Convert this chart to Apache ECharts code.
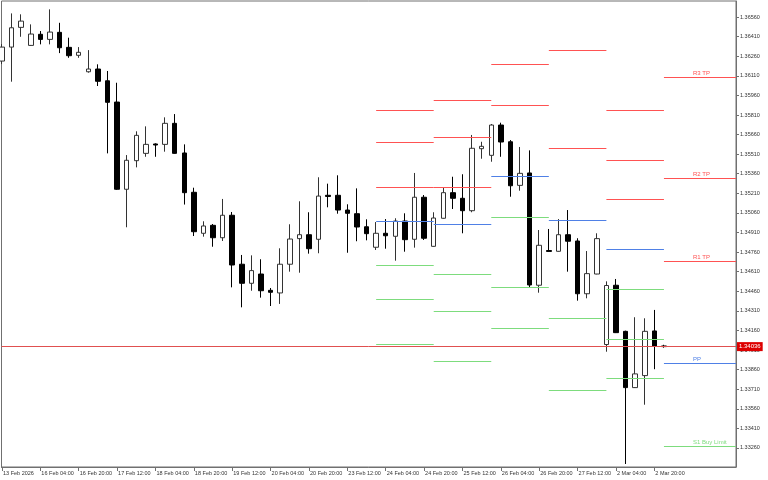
<!DOCTYPE html>
<html><head><meta charset="utf-8">
<script src="https://cdn.jsdelivr.net/npm/echarts@6/dist/echarts.min.js"></script>
<style>html,body{margin:0;padding:0;background:#fff}#c{width:768px;height:480px}</style>
</head><body><div id="c"></div>
<script>
// ---- data (H4 bars, 13 Feb 12:00 .. 3 Mar 00:00) ----
const opens = [
1.36223,1.36330,1.36481,1.36343,1.36428,1.36389,1.36443,1.36328,1.36267,1.36141,
1.36162,1.36072,1.35909,1.35241,1.35460,1.35516,1.35588,1.35585,1.35746,1.35519,
1.35218,1.34904,1.34965,1.34870,1.35042,1.34667,1.34521,1.34592,1.34467,1.34447,
1.34667,1.34863,1.34893,1.34858,1.35195,1.35195,1.35082,1.35054,1.34954,1.34797,
1.34904,1.34881,1.34998,1.34858,1.35180,1.34804,1.35019,1.35215,1.35172,1.35077,
1.35552,1.35501,1.35733,1.35605,1.35271,1.35366,1.34506,1.34772,1.34766,1.34893,
1.34845,1.34441,1.34592,1.34052,1.34506,1.34153,1.33722,1.33814,1.34156,1.34041];
const closes = [
1.36330,1.36478,1.36529,1.36430,1.36389,1.36445,1.36325,1.36264,1.36290,1.36162,
1.36068,1.35907,1.35241,1.35463,1.35654,1.35585,1.35580,1.35746,1.35516,1.35215,
1.34916,1.34960,1.34870,1.35042,1.34661,1.34521,1.34618,1.34464,1.34452,1.34667,
1.34860,1.34893,1.34786,1.35189,1.35186,1.35082,1.35057,1.34952,1.34901,1.34904,
1.34885,1.34998,1.34855,1.35180,1.34866,1.35021,1.35215,1.35172,1.35077,1.35555,
1.35570,1.35733,1.35603,1.35268,1.35363,1.34508,1.34812,1.34765,1.34893,1.34843,
1.34441,1.34595,1.34863,1.34504,1.34143,1.33722,1.33827,1.34153,1.34041,1.34036];
const highs = [
1.36353,1.36588,1.36581,1.36504,1.36453,1.36619,1.36516,1.36402,1.36330,1.36307,
1.36198,1.36147,1.36057,1.35503,1.35685,1.35723,1.35593,1.35792,1.35817,1.35585,
1.35253,1.34996,1.34975,1.35167,1.35067,1.34738,1.34735,1.34705,1.34485,1.34789,
1.34973,1.35149,1.35065,1.35333,1.35284,1.35348,1.35126,1.35248,1.35011,1.34990,
1.35013,1.35019,1.35057,1.35366,1.35197,1.35065,1.35253,1.35337,1.35356,1.35657,
1.35605,1.35741,1.35751,1.35618,1.35565,1.35539,1.34929,1.34937,1.35013,1.35082,
1.34866,1.34768,1.34904,1.34536,1.34554,1.34158,1.34261,1.34253,1.34317,1.34050];
const lows = [
1.36200,1.36065,1.36409,1.36340,1.36351,1.36351,1.36284,1.36248,1.36248,1.36134,
1.36032,1.35516,1.35236,1.34950,1.35409,1.35490,1.35490,1.35529,1.35513,1.35124,
1.34883,1.34878,1.34801,1.34845,1.34490,1.34337,1.34464,1.34411,1.34347,1.34363,
1.34610,1.34602,1.34748,1.34751,1.35103,1.35054,1.34755,1.34843,1.34850,1.34776,
1.34786,1.34694,1.34763,1.34794,1.34853,1.34801,1.35016,1.35090,1.34904,1.35065,
1.35475,1.35452,1.35490,1.35184,1.35230,1.34490,1.34449,1.34763,1.34764,1.34610,
1.34388,1.34406,1.34590,1.33997,1.34140,1.33137,1.33719,1.33591,1.33863,1.34028];

const dateLabelBars = [0,4,8,12,16,20,24,28,32,36,40,44,48,52,56,60,64,68];
const dateLabels = ["13 Feb 2026","16 Feb 04:00","16 Feb 20:00","17 Feb 12:00","18 Feb 04:00",
  "18 Feb 20:00","19 Feb 12:00","20 Feb 04:00","20 Feb 20:00","23 Feb 12:00","24 Feb 04:00",
  "24 Feb 20:00","25 Feb 12:00","26 Feb 04:00","26 Feb 20:00","27 Feb 12:00","2 Mar 04:00","2 Mar 20:00"];

const priceTicks = [1.33260,1.33410,1.33560,1.33710,1.33860,1.34010,1.34160,1.34310,1.34460,
  1.34610,1.34760,1.34910,1.35060,1.35210,1.35360,1.35510,1.35660,1.35810,1.35960,1.36110,
  1.36260,1.36410,1.36560];
const currentPrice = 1.34036;

// daily pivot levels: 24 Feb, 25 Feb, 26 Feb, 27 Feb, 2 Mar, 3 Mar
const pivotStartBar = [39,45,51,57,63,69];
const r3 = [1.35848,1.35922,null,null,1.35848,1.36098];
const r2 = [1.35601,1.35641,1.36198,1.36305,1.35463,1.35327];
const r1 = [1.35253,1.35258,1.35881,1.35555,1.35164,1.34686];
const pp = [1.34998,1.34977,1.35343,1.35003,1.34781,1.33908];
const s1 = [1.34656,1.34590,1.35026,1.34253,1.34475,1.33273];
const s2 = [1.34401,1.34309,1.34490,1.33702,1.34092,null];
const s3 = [1.34054,1.33926,1.34176,null,1.33794,null];
const lastDayLabels = {r3:"R3 TP", r2:"R2 TP", r1:"R1 TP", pp:"PP", s1:"S1 Buy Limit"};

// ---- layout / style ----
const X_MIN = -0.052, X_MAX = 76.51, Y_MIN = 1.33114, Y_MAX = 1.36683;
const RED = '#ff5252', BLUE = '#4f80e6', GREEN = '#7ddc7d';
const FONT = 'Liberation Sans';

const candleData = opens.map((o, i) => [i, o, closes[i], lows[i], highs[i]]);

const levels = [
  {name:'r3', vals:r3, color:RED}, {name:'r2', vals:r2, color:RED}, {name:'r1', vals:r1, color:RED},
  {name:'pp', vals:pp, color:BLUE},
  {name:'s1', vals:s1, color:GREEN}, {name:'s2', vals:s2, color:GREEN}, {name:'s3', vals:s3, color:GREEN}
];
const mlData = [];
const nDays = pivotStartBar.length;
levels.forEach(lv => {
  lv.vals.forEach((v, d) => {
    if (v == null) return;
    const x0 = pivotStartBar[d];
    const x1 = d < nDays - 1 ? pivotStartBar[d + 1] : X_MAX;
    const isLast = d === nDays - 1 && lastDayLabels[lv.name];
    mlData.push([
      {coord:[x0, v], lineStyle:{color:lv.color, width:1, type:'solid'},
       label: isLast ? {show:true, position:'insideStartTop', distance:[29, 1],
         formatter: lastDayLabels[lv.name], color: lv.color, fontSize:6, fontFamily:FONT} : {show:false}},
      {coord:[x1, v]}
    ]);
  });
});
mlData.push([
  {coord:[X_MIN, currentPrice], lineStyle:{color:'#e05050', width:1, type:'solid'},
   label:{show:true, position:'end', distance:1, formatter: currentPrice.toFixed(5),
     color:'#fff', backgroundColor:'#dd0000', padding:[2,2,1,2], fontSize:6, fontFamily:FONT}},
  {coord:[X_MAX, currentPrice]}
]);

const chart = echarts.init(document.getElementById('c'), null, {renderer:'canvas'});
chart.setOption({
  animation:false,
  backgroundColor:'#ffffff',
  grid:{left:1, right:32, top:1, bottom:13, show:true, borderColor:'#707070', borderWidth:1},
  xAxis:{
    type:'value', min:X_MIN, max:X_MAX, splitLine:{show:false},
    axisLine:{show:true, onZero:false, lineStyle:{color:'#707070'}},
    axisTick:{show:true, length:4, customValues:dateLabelBars, lineStyle:{color:'#707070'}},
    axisLabel:{customValues:dateLabelBars, align:'left', margin:3, fontSize:5.5, color:'#333',
      fontFamily:FONT, padding:[0,0,0,1],
      formatter: v => { const k = dateLabelBars.indexOf(Math.round(v)); return k >= 0 ? dateLabels[k] : ''; }}
  },
  yAxis:{
    type:'value', position:'right', min:Y_MIN, max:Y_MAX, scale:true, splitLine:{show:false},
    axisLine:{show:true, onZero:false, lineStyle:{color:'#707070'}},
    axisTick:{show:true, length:3, customValues:priceTicks, lineStyle:{color:'#707070'}},
    axisLabel:{customValues:priceTicks, margin:4, fontSize:5.5, color:'#333', fontFamily:FONT,
      formatter: v => v.toFixed(5)}
  },
  series:[{
    type:'candlestick', data:candleData, encode:{x:0, y:[1,2,3,4]},
    barWidth:5, clip:true,
    itemStyle:{color:'#ffffff', color0:'#000000', borderColor:'#333333', borderColor0:'#000000', borderWidth:1},
    markLine:{silent:true, symbol:['none','none'], animation:false, data:mlData}
  }]
});
</script></body></html>
